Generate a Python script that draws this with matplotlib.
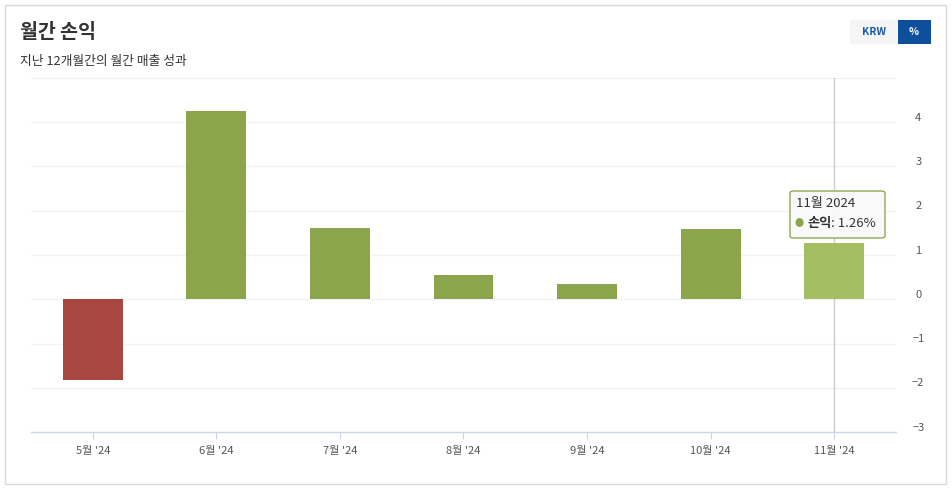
import matplotlib.pyplot as plt
from matplotlib.patches import Rectangle, FancyBboxPatch
import matplotlib.transforms as mtransforms

plt.rcParams['font.family'] = ['Noto Sans CJK KR', 'DejaVu Sans']
plt.rcParams['axes.unicode_minus'] = True

# 데이터
months = ["5월 '24", "6월 '24", "7월 '24", "8월 '24", "9월 '24", "10월 '24", "11월 '24"]
returns = [-1.82, 4.25, 1.61, 0.55, 0.34, 1.59, 1.26]
yticks = [-3, -2, -1, 0, 1, 2, 3, 4]

RED = '#A84740'
GREEN = '#8AA54C'
HILITE = '#A3BE63'

fig = plt.figure(figsize=(9.53, 4.90), dpi=100)

# 바깥 테두리
fig.patches.append(Rectangle((5 / 953, 6 / 490), 941 / 953, 479 / 490, transform=fig.transFigure,
                             fill=False, edgecolor='#d9d9d9', linewidth=1))

ax = fig.add_axes([31 / 953, 58 / 490, 865 / 953, 354 / 490])

x = list(range(len(months)))
colors = []
for i, v in enumerate(returns):
    if i == len(returns) - 1:
        colors.append(HILITE)
    elif v < 0:
        colors.append(RED)
    else:
        colors.append(GREEN)
ax.bar(x, returns, width=0.485, color=colors, zorder=3)

ax.set_xlim(-0.5, len(months) - 0.5)
ax.set_ylim(-3, 5)

# 격자
for v in [-2, -1, 0, 1, 2, 3, 4, 5]:
    ax.axhline(v, color='#f3f3f3', linewidth=1, zorder=1)

# 크로스헤어
ax.axvline(6, color='#cccccc', linewidth=1, zorder=2)

for s in ['top', 'left', 'right']:
    ax.spines[s].set_visible(False)
ax.spines['bottom'].set_color('#ccd6eb')
ax.spines['bottom'].set_linewidth(1)

ax.set_xticks(x)
ax.set_xticklabels(months, fontsize=8, color='#555555')
ax.tick_params(axis='x', length=5, color='#ccd6eb', pad=5)

ax.yaxis.tick_right()
ax.set_yticks(yticks)
ax.set_yticklabels([str(t).replace('-', '\u2212') for t in yticks], fontsize=8, color='#555555')
ax.tick_params(axis='y', length=0, pad=16)
offset = mtransforms.ScaledTranslation(0, 0.055, fig.dpi_scale_trans)
for lbl in ax.get_yticklabels():
    lbl.set_transform(lbl.get_transform() + offset)
    lbl.set_horizontalalignment('center')

# 제목
fig.text(20 / 953, 1 - 33 / 490, '월간 손익', fontsize=14, fontweight='bold', color='#333333', va='center')
fig.text(20 / 953, 1 - 61 / 490, '지난 12개월간의 월간 매출 성과', fontsize=9.2, color='#333333', va='center')

# 버튼
fig.patches.append(Rectangle((850 / 953, 1 - 44 / 490), 48 / 953, 24 / 490, transform=fig.transFigure,
                             facecolor='#f5f5f5', edgecolor='none'))
fig.patches.append(Rectangle((898 / 953, 1 - 44 / 490), 33 / 953, 24 / 490, transform=fig.transFigure,
                             facecolor='#0e4f9b', edgecolor='none'))
fig.text(874 / 953, 1 - 32 / 490, 'KRW', fontsize=7.5, fontweight='bold', color='#1a5aa8', ha='center', va='center')
fig.text(914 / 953, 1 - 32 / 490, '%', fontsize=7.5, fontweight='bold', color='white', ha='center', va='center')

# 툴팁
fig.patches.append(FancyBboxPatch((790 / 953, 1 - 238 / 490), 95 / 953, 47 / 490,
                                  boxstyle='round,pad=0,rounding_size=0.004', transform=fig.transFigure,
                                  facecolor='#f9f9f9', edgecolor=GREEN, linewidth=1, alpha=0.95, zorder=10))
fig.text(796 / 953, 1 - 204 / 490, '11월 2024', fontsize=9.5, color='#333333', va='center', zorder=11)
fig.text(795 / 953, 1 - 223 / 490, '●', fontsize=6.5, color=GREEN, va='center', zorder=11)
name = fig.text(807 / 953, 1 - 223 / 490, '손익', fontsize=9.5, fontweight='bold', color='#333333',
                va='center', zorder=11)
fig.canvas.draw()
bb = name.get_window_extent()
fig.text(bb.x1 / 953, 1 - 223 / 490, f': {returns[-1]:.2f}%', fontsize=9.5, color='#333333',
         va='center', zorder=11)

fig.savefig('out.png', dpi=100)
